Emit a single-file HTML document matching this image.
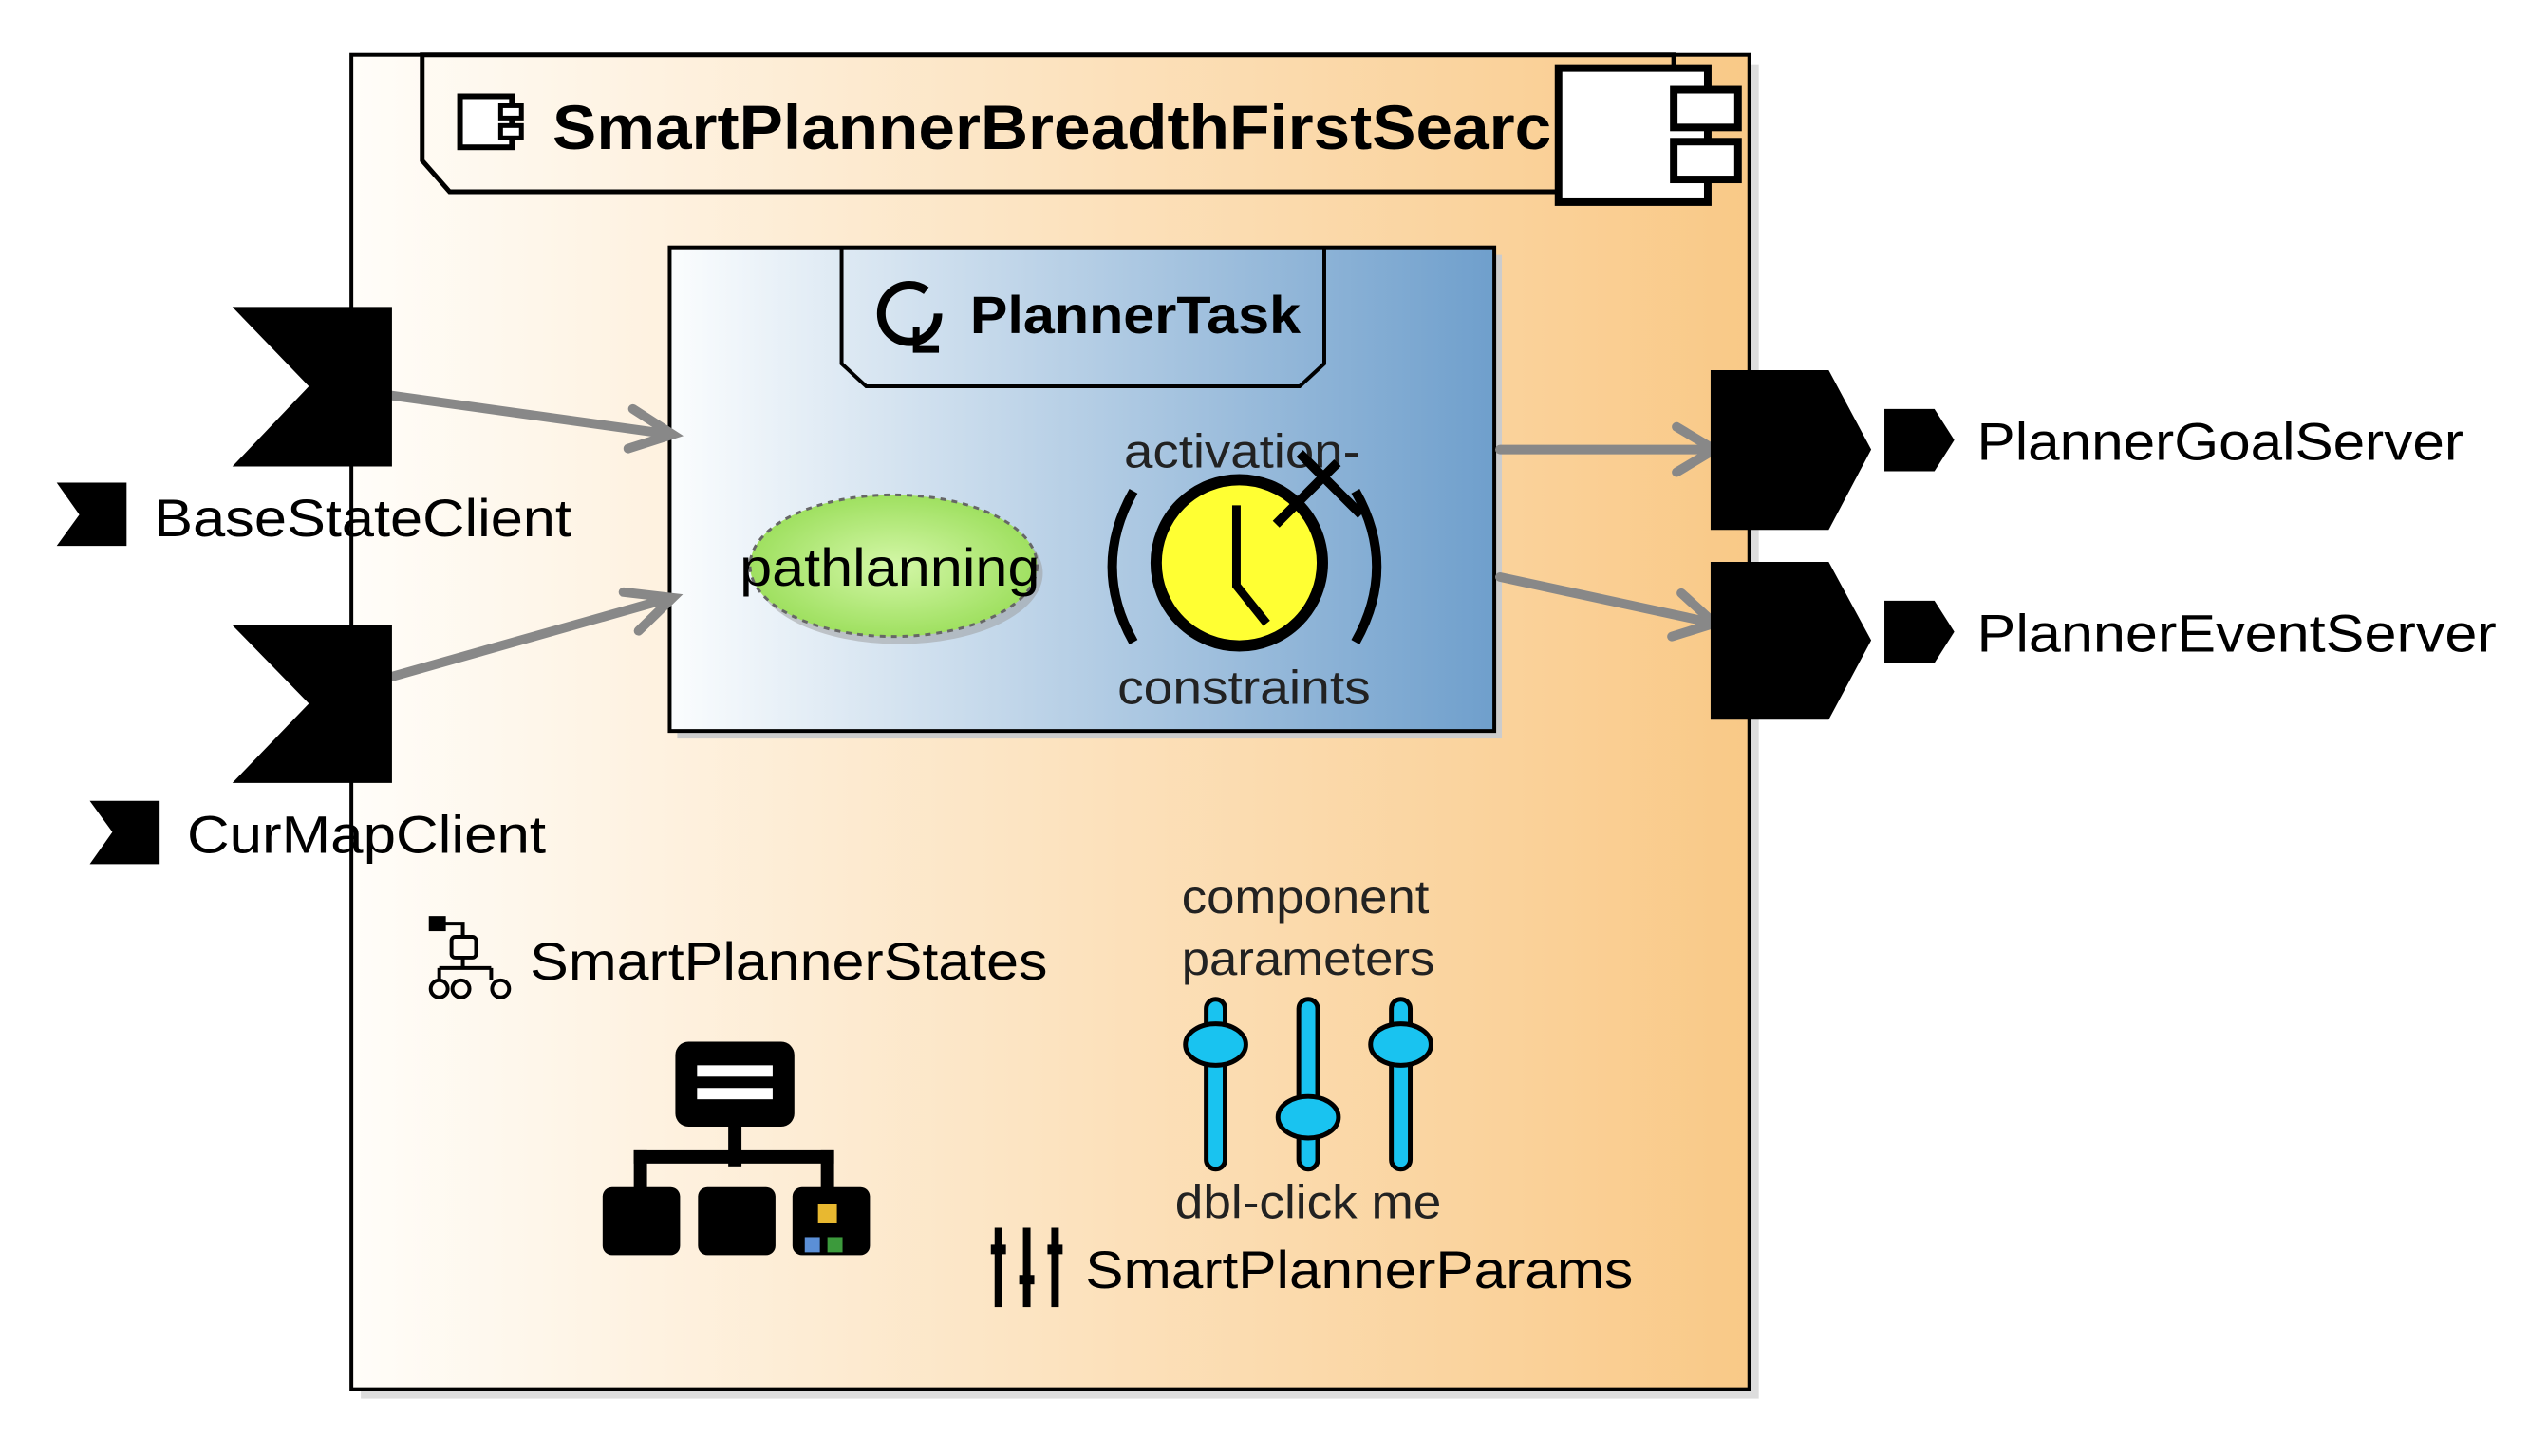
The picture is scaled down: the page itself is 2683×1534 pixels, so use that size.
<!DOCTYPE html>
<html><head><meta charset="utf-8"><style>html,body{margin:0;padding:0;background:#fff}svg{display:block}</style></head>
<body>
<svg width="2683" height="1534" viewBox="0 0 2683 1534" xmlns="http://www.w3.org/2000/svg" font-family="Liberation Sans, sans-serif">
<defs>
<linearGradient id="og" x1="0" x2="1" y1="0" y2="0"><stop offset="0" stop-color="#fffdf9"/><stop offset="1" stop-color="#f9c987"/></linearGradient>
<linearGradient id="bg" x1="0" x2="1" y1="0" y2="0"><stop offset="0" stop-color="#fbfdfe"/><stop offset="1" stop-color="#6f9fcc"/></linearGradient>
<radialGradient id="gg"><stop offset="0" stop-color="#d4f7a8"/><stop offset="1" stop-color="#9fe060"/></radialGradient>
</defs>
<g transform="scale(0.995)">
<rect x="382" y="68" width="1480" height="1413" fill="#ddd"/>
<rect x="372" y="58" width="1480" height="1413" fill="url(#og)" stroke="#000" stroke-width="4"/>
<polygon points="447,58 1772,58 1772,203 476,203 447,170" fill="none" stroke="#000" stroke-width="5"/>
<svg x="0" y="0" width="1650" height="300"><text x="585" y="158" font-size="66" font-weight="bold" textLength="1100" lengthAdjust="spacingAndGlyphs">SmartPlannerBreadthFirstSearch</text></svg>
<rect x="487" y="102" width="55" height="54" fill="#fff" stroke="#000" stroke-width="6"/>
<rect x="530" y="112" width="22" height="13" fill="#fff" stroke="#000" stroke-width="5"/>
<rect x="530" y="133" width="22" height="13" fill="#fff" stroke="#000" stroke-width="5"/>
<rect x="1650" y="72" width="158" height="142" fill="#fff" stroke="#000" stroke-width="8"/>
<rect x="1772" y="95" width="68" height="40" fill="#fff" stroke="#000" stroke-width="8"/>
<rect x="1772" y="150" width="68" height="40" fill="#fff" stroke="#000" stroke-width="8"/>
<rect x="717" y="270" width="873" height="512" fill="#ccc"/>
<rect x="709" y="262" width="873" height="512" fill="url(#bg)" stroke="#000" stroke-width="4"/>
<polyline points="891,262 891,385 917,409 1376,409 1402,385 1402,262" fill="none" stroke="#000" stroke-width="4"/>
<circle cx="963" cy="332" r="30" fill="none" stroke="#000" stroke-width="9" stroke-dasharray="160 30"/>
<path d="M970 346 L970 370 L994 370" fill="none" stroke="#000" stroke-width="7"/>
<text x="1027" y="353" font-size="56" font-weight="bold" textLength="350" lengthAdjust="spacingAndGlyphs">PlannerTask</text>
<ellipse cx="952" cy="607" rx="152" ry="75" fill="#999" opacity="0.5"/>
<ellipse cx="946" cy="599" rx="152" ry="75" fill="url(#gg)" stroke="#666" stroke-width="3" stroke-dasharray="6 6"/>
<text x="783" y="620" font-size="56" textLength="318" lengthAdjust="spacingAndGlyphs">pathlanning</text>
<text x="1190" y="495" font-size="50" fill="#222" textLength="250" lengthAdjust="spacingAndGlyphs">activation-</text>
<text x="1183" y="745" font-size="50" fill="#222" textLength="268" lengthAdjust="spacingAndGlyphs">constraints</text>
<path d="M1200 520 Q1155 600 1200 680" fill="none" stroke="#000" stroke-width="10"/>
<path d="M1435 520 Q1480 600 1435 680" fill="none" stroke="#000" stroke-width="10"/>
<circle cx="1312" cy="596" r="88" fill="#ffff33" stroke="#000" stroke-width="12"/>
<path d="M1309 535 L1309 620 L1341 660" fill="none" stroke="#000" stroke-width="9"/>
<path d="M1351 555 L1416 490 M1376 480 L1441 545" stroke="#000" stroke-width="10"/>
<g stroke="#888" stroke-width="10" fill="none" stroke-linecap="round">
<line x1="409" y1="418" x2="710" y2="460"/><polyline points="670,433 712,460 665,475"/>
<line x1="413" y1="717" x2="710" y2="633"/><polyline points="660,627 712,633 676,668"/>
<line x1="1588" y1="476" x2="1815" y2="476"/><polyline points="1775,452 1815,476 1775,500"/>
<line x1="1588" y1="611" x2="1815" y2="660"/><polyline points="1780,628 1815,660 1770,674"/>
</g>
<polygon points="246,325 415,325 415,494 246,494 327,409" fill="#000"/>
<polygon points="246,662 415,662 415,829 246,829 327,745" fill="#000"/>
<polygon points="60,511 134,511 134,578 60,578 84,545" fill="#000"/>
<polygon points="95,848 169,848 169,915 95,915 119,881" fill="#000"/>
<text x="163" y="568" font-size="56" textLength="442" lengthAdjust="spacingAndGlyphs">BaseStateClient</text>
<text x="198" y="903" font-size="56" textLength="380" lengthAdjust="spacingAndGlyphs">CurMapClient</text>
<polygon points="1811,392 1936,392 1981,476 1936,561 1811,561" fill="#000"/>
<polygon points="1811,595 1936,595 1981,678 1936,762 1811,762" fill="#000"/>
<polygon points="1995,433 2048,433 2069,466 2048,499 1995,499" fill="#000"/>
<polygon points="1995,636 2048,636 2069,669 2048,702 1995,702" fill="#000"/>
<text x="2093" y="487" font-size="56" textLength="515" lengthAdjust="spacingAndGlyphs">PlannerGoalServer</text>
<text x="2093" y="690" font-size="56" textLength="550" lengthAdjust="spacingAndGlyphs">PlannerEventServer</text>
<g fill="none" stroke="#000" stroke-width="4">
<rect x="456" y="972" width="14" height="12" fill="#000"/>
<path d="M470 978 L490 978 L490 992"/><rect x="478" y="992" width="26" height="22" rx="4"/>
<path d="M490 1014 L490 1025 M465 1025 L520 1025 M465 1025 L465 1038 M520 1025 L520 1038"/>
<circle cx="465" cy="1047" r="9"/><circle cx="488" cy="1047" r="9"/><circle cx="530" cy="1047" r="9"/>
</g>
<text x="561" y="1037" font-size="56" textLength="548" lengthAdjust="spacingAndGlyphs">SmartPlannerStates</text>
<g fill="#000">
<rect x="715" y="1103" width="126" height="90" rx="14"/>
<rect x="738" y="1128" width="80" height="12" fill="#fff"/><rect x="738" y="1152" width="80" height="12" fill="#fff"/>
<rect x="771" y="1190" width="14" height="45"/><rect x="671" y="1218" width="212" height="14"/>
<rect x="671" y="1218" width="14" height="40"/><rect x="869" y="1218" width="14" height="40"/>
<rect x="638" y="1257" width="82" height="72" rx="10"/><rect x="739" y="1257" width="82" height="72" rx="10"/><rect x="839" y="1257" width="82" height="72" rx="10"/>
</g>
<rect x="866" y="1275" width="20" height="20" fill="#e8b830"/>
<rect x="852" y="1310" width="16" height="16" fill="#5b8fd6"/><rect x="876" y="1310" width="16" height="16" fill="#3c9a3c"/>
<text x="1251" y="967" font-size="50" fill="#222" textLength="262" lengthAdjust="spacingAndGlyphs">component</text>
<text x="1251" y="1032" font-size="50" fill="#222" textLength="268" lengthAdjust="spacingAndGlyphs">parameters</text>
<g stroke="#000" stroke-width="5" fill="#19c3f0">
<rect x="1277" y="1058" width="20" height="180" rx="10"/><rect x="1375" y="1058" width="20" height="180" rx="10"/><rect x="1473" y="1058" width="20" height="180" rx="10"/>
<ellipse cx="1287" cy="1106" rx="32" ry="22"/><ellipse cx="1385" cy="1183" rx="32" ry="22"/><ellipse cx="1483" cy="1106" rx="32" ry="22"/>
</g>
<text x="1244" y="1290" font-size="50" fill="#222" textLength="282" lengthAdjust="spacingAndGlyphs">dbl-click me</text>
<g fill="#000">
<rect x="1053" y="1300" width="8" height="84"/><rect x="1083" y="1300" width="8" height="84"/><rect x="1113" y="1300" width="8" height="84"/>
<rect x="1049" y="1318" width="16" height="10"/><rect x="1079" y="1350" width="16" height="10"/><rect x="1109" y="1318" width="16" height="10"/>
</g>
<text x="1149" y="1364" font-size="56" textLength="580" lengthAdjust="spacingAndGlyphs">SmartPlannerParams</text>
</g>
</svg>
</body></html>
